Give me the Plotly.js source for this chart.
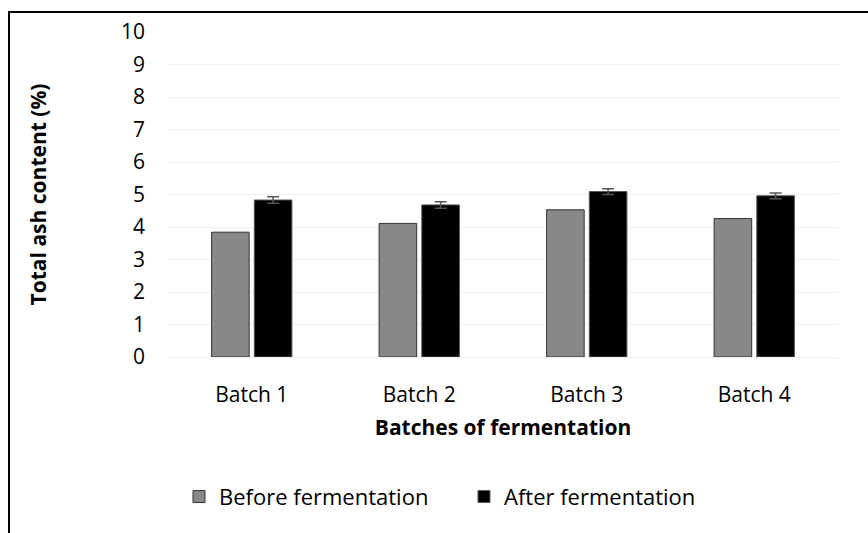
<!DOCTYPE html>
<html>
<head>
<meta charset="utf-8">
<script src="https://cdn.plot.ly/plotly-3.0.1.min.js"></script>
<style>
  body { margin: 0; padding: 0; background: #fff; }
  #wrap { position: relative; width: 868px; height: 533px; overflow: hidden; }
  #chart { width: 868px; height: 533px; }
  #frame { position: absolute; left: 8px; top: 11px; width: 1000px; height: 1000px;
           border-left: 2px solid #000; border-top: 2px solid #000; pointer-events: none; }
</style>
</head>
<body>
<div id="wrap">
  <div id="chart"></div>
  <div id="frame"></div>
</div>
<script>
const categories = ["Batch 1", "Batch 2", "Batch 3", "Batch 4"];
const beforeValues = [3.84, 4.11, 4.53, 4.26];
const afterValues = [4.83, 4.68, 5.09, 4.96];
const afterErrors = [0.10, 0.10, 0.09, 0.09];
const seriesNames = ["Before fermentation", "After fermentation"];

const FONT = "'Open Sans', 'Noto Sans', sans-serif";

const traces = [
  {
    type: "bar", name: seriesNames[0], x: categories, y: beforeValues,
    marker: { color: "#888888", line: { color: "#333333", width: 1 } }
  },
  {
    type: "bar", name: seriesNames[1], x: categories, y: afterValues,
    marker: { color: "#000000", line: { color: "#555555", width: 1 } },
    error_y: { type: "data", array: afterErrors, visible: true, color: "#555555", thickness: 1.5, width: 6 }
  }
];

const layout = {
  width: 868, height: 533,
  margin: { l: 168, r: 30, t: 32, b: 176 },
  paper_bgcolor: "#ffffff", plot_bgcolor: "#ffffff",
  font: { family: FONT, size: 21, color: "#000" },
  barmode: "group", bargap: 0.49, bargroupgap: 0.12,
  showlegend: true,
  legend: { orientation: "h", x: 0.0164, xanchor: "left", y: -0.43, yanchor: "middle",
            font: { size: 22, family: FONT }, itemwidth: 30, entrywidth: 240, traceorder: "normal" },
  xaxis: {
    showgrid: false, showline: false, zeroline: false, ticks: "",
    ticklabelstandoff: 23,
    title: { text: "<b>Batches of fermentation</b>", font: { size: 21, family: FONT }, standoff: 13 }
  },
  yaxis: {
    range: [0, 10], dtick: 1, showgrid: true, gridcolor: "#efefef", gridwidth: 1,
    zeroline: true, zerolinecolor: "#efefef", zerolinewidth: 1,
    showline: false, ticks: "", ticklabelstandoff: 22,
    title: { text: "<b>Total ash content (%)</b>", font: { size: 21, family: FONT }, standoff: 68 }
  }
};

Plotly.newPlot("chart", traces, layout, { displayModeBar: false, staticPlot: true });
</script>
</body>
</html>
